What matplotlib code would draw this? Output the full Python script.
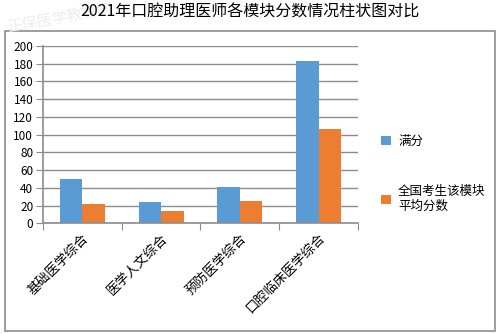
import matplotlib.pyplot as plt
from matplotlib.patches import Rectangle
import numpy as np

plt.rcParams['font.family'] = ['Noto Sans CJK SC', 'DejaVu Sans']

categories = ['基础医学综合', '医学人文综合', '预防医学综合', '口腔临床医学综合']
full_marks = [50, 24, 41, 183]
avg_scores = [22, 14, 25, 106]
series_names = ['满分', '全国考生该模块\n平均分数']
y_ticks = list(range(0, 201, 20))

W, H = 499, 334
fig = plt.figure(figsize=(W / 100, H / 100), dpi=100)

# outer chart frame
fig.patches.append(Rectangle((5 / W, 1 - 331 / H), 490 / W, 300 / H,
                             transform=fig.transFigure, fill=False,
                             edgecolor='#8c8c8c', linewidth=1.2))

# faint watermark
fig.text(6 / W, 1 - 36 / H, '正保医学教育网', fontsize=11, color='#ededed',
         rotation=10, ha='left', va='bottom')

ax = fig.add_axes([43 / W, 1 - 223.3 / H, 315 / W, 177.3 / H])

x = np.arange(len(categories))
bw = 0.285
b1 = ax.bar(x - bw / 2, full_marks, bw, color='#5B9BD5', label=series_names[0])
b2 = ax.bar(x + bw / 2, avg_scores, bw, color='#ED7D31', label=series_names[1])

ax.set_xlim(-0.5, len(categories) - 0.5)
ax.set_ylim(0, 200)
ax.set_yticks(y_ticks)
ax.set_yticklabels([str(v) for v in y_ticks], fontsize=8.5)
ax.yaxis.grid(True, color='#8c8c8c', linewidth=1)
ax.set_axisbelow(True)

# ticks between categories
ax.set_xticks(np.arange(-0.5, len(categories), 1.0))
ax.set_xticklabels([])
ax.set_xticks(x, minor=True)
ax.set_xticklabels(categories, minor=True, rotation=45, ha='right',
                   rotation_mode='anchor', fontsize=9.5)
ax.tick_params(axis='x', which='minor', length=0, pad=6)
ax.tick_params(axis='x', which='major', length=5, color='#8c8c8c')
ax.tick_params(axis='y', length=5, color='#8c8c8c', pad=2)

for side in ['top', 'right']:
    ax.spines[side].set_visible(False)
for side in ['left', 'bottom']:
    ax.spines[side].set_color('#8c8c8c')
    ax.spines[side].set_linewidth(1.2)

fig.legend(handles=[b1, b2], loc='upper left',
           bbox_to_anchor=(370 / W, 1 - 124 / H), frameon=False,
           fontsize=9, handlelength=0.75, handleheight=0.75,
           handletextpad=0.6, labelspacing=2.9)

fig.text(250 / W, 1 - 12 / H, '2021年口腔助理医师各模块分数情况柱状图对比',
         ha='center', va='center', fontsize=11.5)

fig.savefig('out.png', dpi=100)
